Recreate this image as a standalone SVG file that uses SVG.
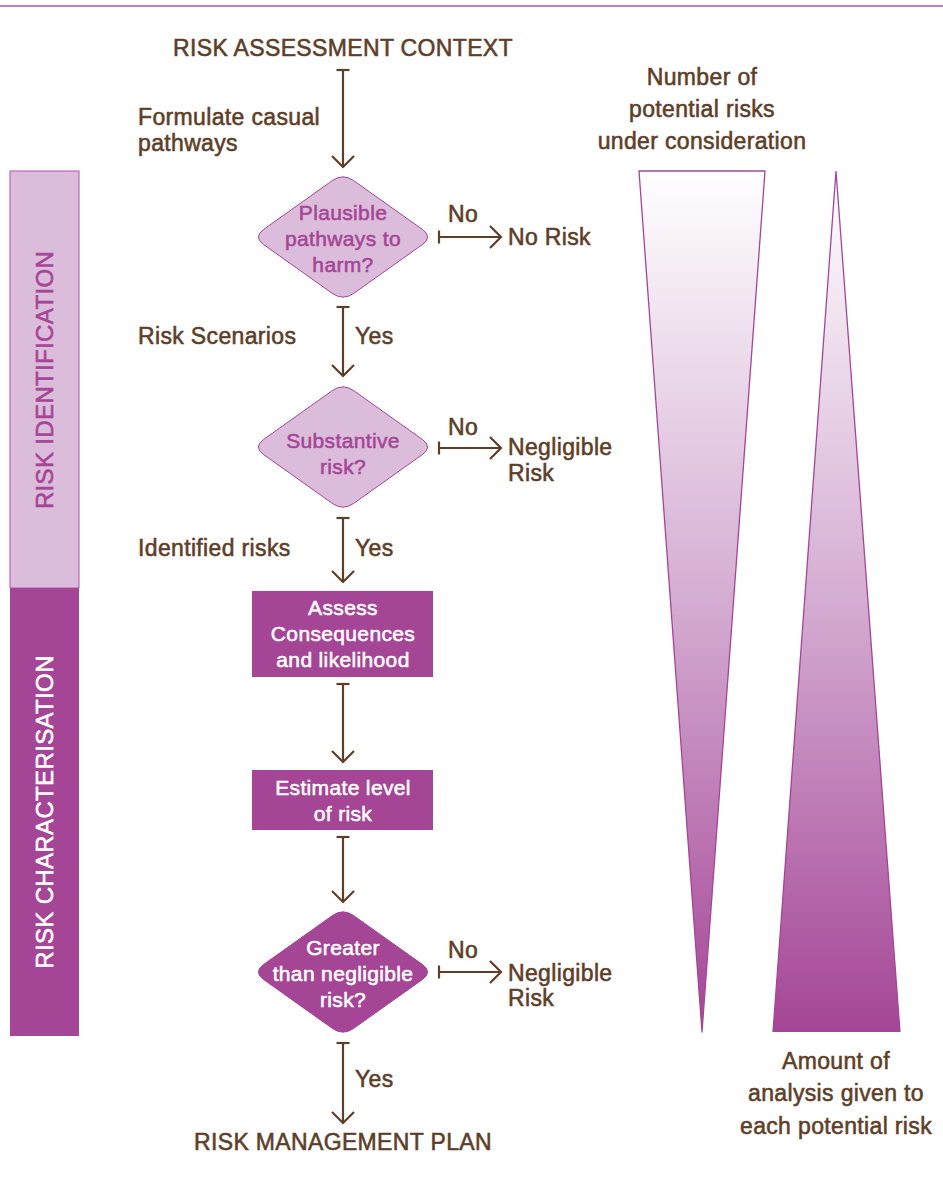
<svg xmlns="http://www.w3.org/2000/svg" width="943" height="1180" viewBox="0 0 943 1180">
<defs>
<style>
text{font-family:"Liberation Sans",Arial,sans-serif;font-size:23px;letter-spacing:0.35px;fill:#5e3e28;stroke:#5e3e28;stroke-width:0.55px}
.c{text-anchor:middle}
.dt{font-size:21px;text-anchor:middle}
.vt{font-size:24px;text-anchor:middle}
.pl{fill:#a54596;stroke:#a54596}
.wh{fill:#ffffff;stroke:#ffffff}
.con{stroke:#5e3e28;stroke-width:2.2;fill:none;marker-start:url(#tee);marker-end:url(#arr)}
.lightd{fill:#dbbddb;stroke:#a54596;stroke-width:1}
.darkd{fill:#a54596;stroke:#a54596;stroke-width:1}
</style>
<marker id="arr" markerUnits="userSpaceOnUse" markerWidth="24" markerHeight="24" refX="12" refY="12" orient="auto" viewBox="0 0 24 24">
<path d="M1,1 L12,12 L1,23" fill="none" stroke="#5e3e28" stroke-width="2.2"/>
</marker>
<marker id="tee" markerUnits="userSpaceOnUse" markerWidth="16" markerHeight="16" refX="8" refY="8" orient="auto" viewBox="0 0 16 16">
<path d="M8,1.5 L8,14.5" stroke="#5e3e28" stroke-width="2.2"/>
</marker>
<linearGradient id="grad" gradientUnits="userSpaceOnUse" x1="0" y1="171" x2="0" y2="1032">
<stop offset="0" stop-color="#ffffff"/>
<stop offset="0.5" stop-color="#d4acd2"/>
<stop offset="1" stop-color="#a54596"/>
</linearGradient>
<path id="dia" d="M10.8,-56.3 L79.2,-7.7 Q90,0 79.2,7.7 L10.8,56.3 Q0,64 -10.8,56.3 L-79.2,7.7 Q-90,0 -79.2,-7.7 L-10.8,-56.3 Q0,-64 10.8,-56.3Z"/>
</defs>
<rect width="943" height="1180" fill="#ffffff"/>
<line x1="0" y1="6" x2="943" y2="6" stroke="#b64fb3" stroke-width="1.6"/>

<g id="bar-identification">
<rect x="10" y="171" width="69" height="417" fill="#dbbddb" stroke="#b64fb3" stroke-width="1"/>
<text class="pl vt" transform="translate(53,380) rotate(-90)">RISK IDENTIFICATION</text>
</g>
<g id="bar-characterisation">
<rect x="10" y="588" width="69" height="448" fill="#a54596"/>
<text class="wh vt" transform="translate(53,812) rotate(-90)">RISK CHARACTERISATION</text>
</g>

<g id="tri-number">
<polygon points="639,171 765,171 702,1032" fill="url(#grad)" stroke="#a54596" stroke-width="1.3" stroke-linejoin="round"/>
</g>
<g id="tri-amount">
<polygon points="836,171 900,1032 773,1032" fill="url(#grad)" stroke="none"/>
<polyline points="773,1032 836,171 900,1032" fill="none" stroke="#a54596" stroke-width="1.3"/>
</g>

<g id="connectors">
<path class="con" d="M343,70 L343,167"/>
<path class="con" d="M343,307 L343,376"/>
<path class="con" d="M343,518 L343,582"/>
<path class="con" d="M343,684 L343,762"/>
<path class="con" d="M343,837 L343,902"/>
<path class="con" d="M343,1043 L343,1123"/>
<path class="con" d="M439,237 L501,237"/>
<path class="con" d="M439,448 L501,448"/>
<path class="con" d="M439,972 L501,972"/>
</g>

<g id="labels">
<text class="c" x="343" y="56">RISK ASSESSMENT CONTEXT</text>
<text x="138" y="125">Formulate casual</text>
<text x="138" y="151">pathways</text>
<text x="138" y="344">Risk Scenarios</text>
<text x="355" y="344">Yes</text>
<text x="138" y="556">Identified risks</text>
<text x="355" y="556">Yes</text>
<text x="355" y="1087">Yes</text>
<text class="c" x="343" y="1150">RISK MANAGEMENT PLAN</text>
<text x="448" y="222">No</text>
<text x="508" y="245">No Risk</text>
<text x="448" y="435">No</text>
<text x="508" y="455">Negligible</text>
<text x="508" y="481">Risk</text>
<text x="448" y="958">No</text>
<text x="508" y="981">Negligible</text>
<text x="508" y="1006">Risk</text>
<text class="c" x="702" y="85">Number of</text>
<text class="c" x="702" y="117">potential risks</text>
<text class="c" x="702" y="149">under consideration</text>
<text class="c" x="836" y="1069">Amount of</text>
<text class="c" x="836" y="1101">analysis given to</text>
<text class="c" x="836" y="1134">each potential risk</text>
</g>

<g id="node-plausible">
<use href="#dia" x="343" y="237" class="lightd"/>
<text class="dt pl" x="343" y="220">Plausible</text>
<text class="dt pl" x="343" y="246">pathways to</text>
<text class="dt pl" x="343" y="272">harm?</text>
</g>
<g id="node-substantive">
<use href="#dia" x="343" y="447" class="lightd"/>
<text class="dt pl" x="343" y="448">Substantive</text>
<text class="dt pl" x="343" y="474">risk?</text>
</g>
<g id="node-assess">
<rect x="252" y="591" width="181" height="86" fill="#a54596"/>
<text class="dt wh" x="343" y="615">Assess</text>
<text class="dt wh" x="343" y="641">Consequences</text>
<text class="dt wh" x="343" y="667">and likelihood</text>
</g>
<g id="node-estimate">
<rect x="252" y="770" width="181" height="60" fill="#a54596"/>
<text class="dt wh" x="343" y="795">Estimate level</text>
<text class="dt wh" x="343" y="821">of risk</text>
</g>
<g id="node-greater">
<use href="#dia" x="343" y="972" class="darkd"/>
<text class="dt wh" x="343" y="955">Greater</text>
<text class="dt wh" x="343" y="981">than negligible</text>
<text class="dt wh" x="343" y="1007">risk?</text>
</g>
</svg>
